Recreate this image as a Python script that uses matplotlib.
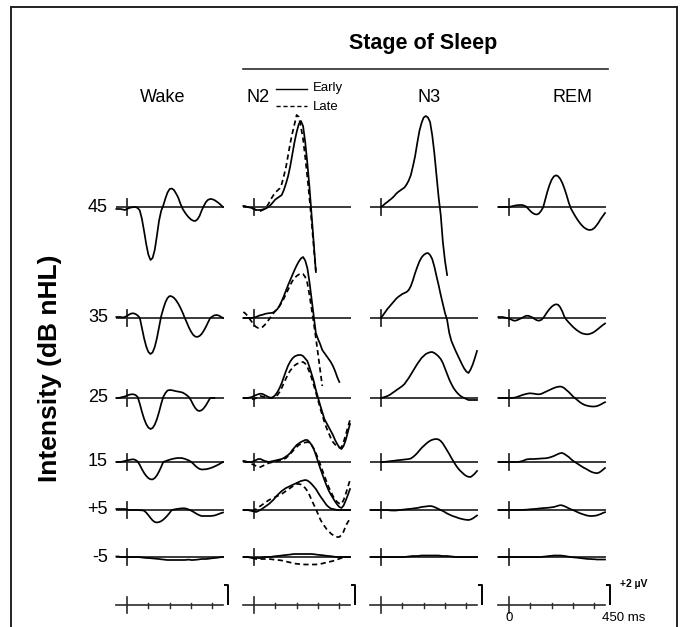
import numpy as np
import matplotlib
matplotlib.use("Agg")
import matplotlib.pyplot as plt
from matplotlib.lines import Line2D

NA = np.nan

# sample times (ms after stimulus onset), one value per 10 ms
time_ms = list(range(-50, 451, 10))
stages = ["Wake", "N2", "N3", "REM"]
levels = ["45", "35", "25", "15", "+5", "-5"]

# averaged waveforms in microvolts, rows = 45, 35, 25, 15, +5, -5 dB nHL
wake = [
    [-0.2, -0.2, -0.2, -0.25, -0.3, -0.2, -0.1, -0.05, 0.0, 0.0,
     -0.1, -0.35, -1.2, -2.4, -3.7, -4.75, -5.3, -5.1, -4.3, -2.9,
     -1.4, -0.4, 0.15, 0.85, 1.45, 1.8, 1.85, 1.7, 1.35, 0.95,
     0.35, -0.15, -0.5, -0.8, -1.05, -1.25, -1.37, -1.4, -1.24, -0.9,
     -0.35, 0.1, 0.5, 0.72, 0.8, 0.78, 0.69, 0.55, 0.39, 0.2, 0.0],
    [0.1, 0.1, 0.1, 0.05, 0.1, 0.2, 0.35, 0.45, 0.47, 0.4,
     0.25, 0.02, -1.0, -2.02, -2.84, -3.39, -3.6, -3.44, -2.9, -2.04,
     -0.95, 0.16, 0.92, 1.57, 2.0, 2.2, 2.16, 2.02, 1.77, 1.44,
     1.04, 0.58, 0.05, -0.43, -0.94, -1.36, -1.68, -1.86, -1.89, -1.8,
     -1.59, -1.27, -0.88, -0.43, 0.0, 0.15, 0.27, 0.3, 0.25, 0.12, 0.0],
    [0.0, 0.0, 0.05, 0.1, 0.15, 0.25, 0.32, 0.37, 0.37, 0.3,
     0.1, -0.58, -1.38, -2.07, -2.61, -2.96, -3.1, -3.0, -2.67, -2.13,
     -1.42, -0.6, 0.1, 0.5, 0.75, 0.8, 0.78, 0.73, 0.68, 0.64,
     0.6, 0.55, 0.43, 0.28, 0.1, -0.23, -0.66, -1.01, -1.24, -1.3,
     -1.22, -1.02, -0.73, -0.36, 0.0, 0.0, 0.0, NA, NA, NA, NA],
    [0.0, 0.0, 0.0, 0.05, 0.1, 0.15, 0.2, 0.25, 0.27, 0.2,
     0.05, -0.3, -0.72, -1.09, -1.39, -1.61, -1.73, -1.74, -1.61, -1.34,
     -0.96, -0.5, 0.0, 0.08, 0.16, 0.23, 0.29, 0.34, 0.38, 0.4,
     0.4, 0.38, 0.32, 0.24, 0.15, 0.03, -0.16, -0.38, -0.56, -0.69,
     -0.75, -0.74, -0.72, -0.68, -0.62, -0.54, -0.45, -0.35, -0.24, -0.12, 0.0],
    [0.1, 0.1, 0.1, 0.1, 0.1, 0.05, 0.0, 0.0, 0.0, 0.0,
     0.0, -0.02, -0.03, -0.07, -0.26, -0.51, -0.79, -1.04, -1.2, -1.25,
     -1.21, -1.12, -0.97, -0.77, -0.54, -0.28, 0.0, 0.05, 0.09, 0.12,
     0.15, 0.17, 0.17, 0.12, 0.04, -0.05, -0.17, -0.3, -0.43, -0.53,
     -0.6, -0.6, -0.6, -0.6, -0.6, -0.58, -0.55, -0.48, -0.4, -0.32, -0.25],
    [0.05, 0.05, 0.0, 0.0, 0.0, 0.0, 0.0, 0.0, 0.0, 0.0,
     0.0, -0.02, -0.05, -0.07, -0.1, -0.1, -0.12, -0.14, -0.16, -0.18,
     -0.2, -0.23, -0.25, -0.28, -0.3, -0.3, -0.3, -0.3, -0.3, -0.3,
     -0.3, -0.3, -0.3, -0.28, -0.26, -0.3, -0.3, -0.28, -0.26, -0.23,
     -0.2, -0.2, -0.2, -0.18, -0.15, -0.12, -0.1, -0.08, -0.05, -0.02, 0.0],
]

n2_early = [
    [0.1, 0.05, 0.0, -0.05, -0.1, -0.2, -0.3, -0.3, -0.3, -0.25,
     -0.2, -0.1, 0.05, 0.25, 0.5, 0.75, 0.9, 1.05, 1.2, 1.7,
     2.35, 3.1, 4.1, 5.3, 6.5, 7.5, 8.3, 8.6, 8.1, 6.5,
     4.4, 2.0, -0.8, -3.6, -6.5, NA, NA, NA, NA, NA,
     NA, NA, NA, NA, NA, NA, NA, NA, NA, NA, NA],
    [0.0, 0.0, 0.0, 0.0, 0.0, 0.05, 0.1, 0.2, 0.28, 0.32,
     0.4, 0.45, 0.48, 0.5, 0.55, 0.7, 0.9, 1.25, 1.7, 2.2,
     2.75, 3.3, 3.8, 4.3, 4.8, 5.25, 5.65, 5.95, 6.1, 5.75,
     5.0, 3.6, 1.9, 0.2, -1.5, -2.1, -2.6, -3.2, -3.5, -3.8,
     -4.1, -4.4, -4.8, -5.3, -5.9, -6.4, NA, NA, NA, NA, NA],
    [0.0, 0.0, 0.0, 0.05, 0.1, 0.2, 0.3, 0.38, 0.43, 0.4,
     0.3, 0.18, 0.08, 0.02, 0.1, 0.3, 0.6, 1.0, 1.5, 2.1,
     2.7, 3.25, 3.65, 3.95, 4.15, 4.25, 4.3, 4.3, 4.2, 3.95,
     3.7, 3.1, 2.4, 1.7, 0.8, 0.05, -0.7, -1.4, -2.1, -2.5,
     -2.9, -3.3, -3.7, -4.2, -4.6, -4.95, -5.1, -4.8, -4.2, -3.4, -2.6],
    [0.1, 0.05, 0.0, 0.0, 0.0, 0.1, 0.2, 0.3, 0.3, 0.2,
     0.1, 0.05, 0.0, 0.05, 0.1, 0.15, 0.2, 0.25, 0.3, 0.4,
     0.55, 0.7, 0.9, 1.2, 1.45, 1.7, 1.85, 2.0, 2.1, 2.2,
     2.2, 2.0, 1.7, 1.3, 0.7, 0.05, -0.6, -1.2, -1.8, -2.35,
     -2.85, -3.25, -3.6, -3.95, -4.25, -4.5, -4.6, -4.35, -3.85, -3.3, -2.7],
    [0.0, 0.0, 0.0, -0.05, -0.1, -0.15, -0.2, -0.1, 0.0, 0.15,
     0.3, 0.45, 0.6, 0.8, 1.0, 1.25, 1.5, 1.7, 1.9, 2.05,
     2.2, 2.3, 2.4, 2.5, 2.6, 2.7, 2.8, 2.9, 2.95, 3.0,
     2.95, 2.8, 2.6, 2.35, 2.1, 1.75, 1.4, 1.1, 0.8, 0.5,
     0.3, 0.15, 0.1, 0.05, 0.0, 0.0, 0.0, 0.0, 0.0, 0.0, 0.0],
    [0.0, 0.0, 0.0, -0.05, -0.1, -0.1, -0.1, -0.1, -0.1, -0.05,
     0.0, 0.0, 0.0, 0.02, 0.05, 0.08, 0.1, 0.12, 0.15, 0.18,
     0.2, 0.22, 0.25, 0.28, 0.3, 0.3, 0.3, 0.3, 0.3, 0.3,
     0.3, 0.3, 0.3, 0.28, 0.25, 0.22, 0.2, 0.18, 0.15, 0.12,
     0.1, 0.08, 0.05, 0.02, 0.0, 0.0, 0.0, 0.0, 0.0, 0.0, 0.0],
]

n2_late = [
    [0.1, 0.05, 0.0, -0.05, -0.1, -0.2, -0.3, -0.35, -0.4, -0.3,
     -0.2, 0.05, 0.4, 0.8, 1.15, 1.45, 1.65, 1.85, 2.3, 3.1,
     4.0, 5.2, 6.4, 7.4, 8.3, 9.2, 9.0, 8.0, 6.8, 5.0,
     3.0, 0.9, -1.5, -4.0, -6.4, NA, NA, NA, NA, NA,
     NA, NA, NA, NA, NA, NA, NA, NA, NA, NA, NA],
    [0.6, 0.45, 0.2, -0.1, -0.4, -0.7, -0.9, -1.0, -1.0, -0.9,
     -0.7, -0.45, -0.15, 0.15, 0.45, 0.7, 0.95, 1.2, 1.55, 1.95,
     2.4, 2.85, 3.3, 3.7, 4.0, 4.2, 4.35, 4.45, 4.4, 4.1,
     3.5, 2.3, 0.9, -0.5, -2.0, -3.6, -5.2, -6.8, NA, NA,
     NA, NA, NA, NA, NA, NA, NA, NA, NA, NA, NA],
    [0.0, 0.0, 0.0, -0.05, -0.1, -0.1, 0.0, 0.1, 0.2, 0.15,
     0.1, 0.05, 0.0, 0.0, 0.05, 0.15, 0.3, 0.6, 1.0, 1.5,
     1.95, 2.4, 2.75, 3.0, 3.25, 3.4, 3.5, 3.58, 3.6, 3.45,
     3.1, 2.6, 2.0, 1.3, 0.55, -0.2, -1.0, -1.7, -2.4, -3.0,
     -3.5, -4.0, -4.4, -4.65, -4.85, -4.95, -4.95, -4.4, -3.7, -2.9, -2.2],
    [0.1, 0.05, 0.0, -0.1, -0.2, -0.3, -0.4, -0.5, -0.5, -0.4,
     -0.3, -0.2, -0.1, -0.05, 0.0, 0.05, 0.1, 0.15, 0.2, 0.3,
     0.4, 0.6, 0.8, 1.05, 1.3, 1.5, 1.7, 1.8, 1.9, 1.95,
     2.0, 1.9, 1.7, 1.35, 0.9, 0.35, -0.2, -0.8, -1.4, -1.95,
     -2.5, -2.95, -3.4, -3.75, -4.0, -4.15, -4.2, -3.8, -3.2, -2.5, -1.8],
    [0.0, 0.0, 0.0, -0.05, -0.1, -0.05, 0.1, 0.25, 0.4, 0.55,
     0.7, 0.85, 1.0, 1.1, 1.2, 1.3, 1.4, 1.5, 1.6, 1.75,
     1.9, 2.05, 2.2, 2.35, 2.5, 2.6, 2.6, 2.55, 2.4, 2.2,
     1.9, 1.5, 1.0, 0.55, 0.1, -0.4, -0.9, -1.3, -1.6, -1.9,
     -2.1, -2.35, -2.5, -2.65, -2.7, -2.7, -2.5, -2.15, -1.6, -1.2, -0.9],
    [0.0, 0.0, 0.0, -0.05, -0.1, -0.15, -0.2, -0.2, -0.2, -0.2,
     -0.2, -0.2, -0.2, -0.22, -0.25, -0.28, -0.3, -0.32, -0.35, -0.4,
     -0.45, -0.5, -0.55, -0.6, -0.65, -0.68, -0.7, -0.72, -0.75, -0.75,
     -0.75, -0.75, -0.75, -0.75, -0.75, -0.72, -0.7, -0.65, -0.6, -0.55,
     -0.5, -0.45, -0.4, -0.32, -0.25, -0.18, -0.1, -0.05, 0.0, 0.0, 0.0],
]

n3 = [
    [NA, NA, NA, NA, NA, 0.0, 0.15, 0.35, 0.5, 0.68,
     0.85, 1.05, 1.3, 1.5, 1.65, 1.8, 1.95, 2.25, 2.65, 3.2,
     4.1, 5.1, 6.4, 7.6, 8.4, 8.95, 9.1, 8.95, 8.5, 7.2,
     5.4, 3.2, 1.0, -0.8, -3.5, -5.4, -6.8, NA, NA, NA,
     NA, NA, NA, NA, NA, NA, NA, NA, NA, NA, NA],
    [NA, NA, NA, NA, NA, 0.0, 0.3, 0.6, 0.9, 1.15,
     1.4, 1.65, 1.9, 2.1, 2.25, 2.4, 2.5, 2.6, 2.8, 3.2,
     3.8, 4.5, 5.1, 5.65, 6.05, 6.3, 6.45, 6.5, 6.3, 5.9,
     5.15, 4.2, 3.3, 2.3, 1.4, 0.5, -0.2, -1.5, -2.3, -2.8,
     -3.3, -3.75, -4.2, -4.65, -5.05, -5.35, -5.5, -5.15, -4.65, -4.0, -3.3],
    [NA, NA, NA, NA, NA, 0.0, 0.05, 0.12, 0.2, 0.3,
     0.45, 0.6, 0.75, 0.9, 1.05, 1.2, 1.4, 1.7, 2.0, 2.35,
     2.7, 3.05, 3.4, 3.7, 4.0, 4.2, 4.4, 4.5, 4.58, 4.6,
     4.5, 4.35, 4.15, 3.9, 3.5, 2.95, 2.4, 1.85, 1.4, 1.0,
     0.7, 0.45, 0.25, 0.1, 0.0, -0.1, -0.2, -0.2, -0.2, -0.2, -0.2],
    [NA, NA, NA, NA, NA, 0.0, 0.0, 0.02, 0.05, 0.07,
     0.1, 0.12, 0.15, 0.18, 0.2, 0.22, 0.25, 0.27, 0.3, 0.35,
     0.5, 0.68, 0.9, 1.15, 1.4, 1.6, 1.8, 1.98, 2.12, 2.22,
     2.28, 2.3, 2.25, 2.1, 1.85, 1.5, 1.15, 0.8, 0.4, 0.05,
     -0.3, -0.6, -0.85, -1.05, -1.25, -1.4, -1.48, -1.5, -1.35, -1.15, -0.9],
    [0.0, 0.0, 0.0, 0.0, 0.0, 0.0, 0.0, 0.0, 0.0, -0.03,
     -0.05, -0.05, -0.05, -0.02, 0.0, 0.03, 0.05, 0.08, 0.1, 0.12,
     0.15, 0.18, 0.2, 0.25, 0.3, 0.33, 0.35, 0.38, 0.4, 0.37,
     0.3, 0.2, 0.1, 0.0, -0.1, -0.22, -0.35, -0.45, -0.55, -0.63,
     -0.7, -0.78, -0.85, -0.9, -0.95, -0.98, -1.0, -0.95, -0.85, -0.7, -0.55],
    [0.0, 0.0, 0.0, 0.0, 0.0, 0.0, 0.0, 0.0, 0.0, 0.0,
     0.0, 0.0, 0.0, 0.0, 0.0, 0.0, 0.0, 0.03, 0.05, 0.08,
     0.1, 0.1, 0.1, 0.12, 0.15, 0.15, 0.15, 0.15, 0.15, 0.15,
     0.15, 0.15, 0.15, 0.12, 0.1, 0.1, 0.1, 0.08, 0.05, 0.03,
     0.0, 0.0, 0.0, 0.0, 0.0, 0.0, 0.0, 0.0, 0.0, 0.0, 0.0],
]

rem = [
    [0.0, 0.0, 0.0, 0.0, 0.0, 0.0, 0.05, 0.1, 0.15, 0.18,
     0.2, 0.2, 0.15, 0.05, -0.17, -0.4, -0.59, -0.71, -0.75, -0.66,
     -0.4, -0.04, 0.75, 1.54, 2.21, 2.73, 3.05, 3.17, 3.08, 2.82,
     2.4, 1.84, 1.18, 0.45, -0.15, -0.53, -0.9, -1.24, -1.54, -1.8,
     -2.02, -2.17, -2.27, -2.3, -2.25, -2.1, -1.85, -1.55, -1.2, -0.9, -0.6],
    [0.1, 0.1, 0.1, 0.05, 0.0, -0.05, -0.15, -0.25, -0.27, -0.2,
     -0.1, 0.0, 0.12, 0.22, 0.22, 0.15, 0.05, -0.1, -0.22, -0.27,
     -0.2, -0.02, 0.3, 0.62, 0.9, 1.13, 1.29, 1.37, 1.33, 1.08,
     0.65, 0.11, -0.2, -0.44, -0.67, -0.89, -1.08, -1.25, -1.39, -1.51,
     -1.58, -1.62, -1.63, -1.58, -1.5, -1.38, -1.22, -1.05, -0.87, -0.7, -0.55],
    [0.0, 0.0, 0.0, 0.0, 0.0, 0.0, 0.0, 0.02, 0.05, 0.12,
     0.2, 0.28, 0.35, 0.4, 0.45, 0.47, 0.45, 0.42, 0.38, 0.37,
     0.4, 0.5, 0.6, 0.7, 0.8, 0.9, 1.0, 1.07, 1.12, 1.15,
     1.1, 0.97, 0.78, 0.6, 0.38, 0.15, -0.02, -0.2, -0.38, -0.53,
     -0.65, -0.73, -0.79, -0.83, -0.85, -0.85, -0.82, -0.75, -0.65, -0.53, -0.42],
    [0.0, 0.0, 0.0, 0.0, 0.0, 0.0, 0.0, 0.0, 0.0, 0.0,
     0.03, 0.08, 0.15, 0.25, 0.28, 0.3, 0.3, 0.3, 0.32, 0.33,
     0.35, 0.36, 0.37, 0.4, 0.45, 0.52, 0.6, 0.7, 0.8, 0.88,
     0.9, 0.8, 0.65, 0.5, 0.3, 0.12, -0.02, -0.15, -0.3, -0.43,
     -0.57, -0.67, -0.8, -0.92, -1.02, -1.08, -1.12, -1.08, -0.95, -0.78, -0.6],
    [0.0, 0.0, 0.0, 0.0, 0.0, 0.0, 0.0, 0.0, 0.0, 0.0,
     0.0, 0.0, 0.02, 0.03, 0.05, 0.07, 0.09, 0.1, 0.12, 0.15,
     0.17, 0.19, 0.2, 0.22, 0.24, 0.27, 0.3, 0.36, 0.43, 0.48,
     0.46, 0.38, 0.28, 0.17, 0.07, 0.0, -0.1, -0.2, -0.3, -0.38,
     -0.45, -0.52, -0.57, -0.6, -0.6, -0.58, -0.55, -0.48, -0.4, -0.3, -0.22],
    [0.0, 0.0, 0.0, 0.0, 0.0, 0.0, 0.0, 0.0, 0.0, 0.0,
     0.0, 0.0, 0.0, 0.0, 0.0, 0.0, 0.0, 0.0, 0.0, 0.0,
     0.0, 0.03, 0.05, 0.08, 0.1, 0.12, 0.15, 0.15, 0.15, 0.15,
     0.13, 0.1, 0.07, 0.03, 0.0, -0.03, -0.05, -0.07, -0.1, -0.12,
     -0.15, -0.17, -0.2, -0.2, -0.22, -0.22, -0.25, -0.25, -0.25, -0.25, -0.25],
]

# layout, in pixels of the 686 x 627 picture
W, H = 686, 627
PX_MS = 96 / 450      # 450 ms spans 96 px
PX_UV = 10            # 1 uV = 10 px (the 2 uV bar is 20 px)
zero_x = [127, 254, 381, 509]
row_y = [207, 318, 398, 462, 510, 557]
scale_y = 605
base_col = "#2b2b2b"

plt.rcParams["font.family"] = ["Liberation Sans", "DejaVu Sans"]
fig = plt.figure(figsize=(W / 100, H / 100), dpi=100)


def fx(x):
    return x / W


def fy(y):
    return 1 - y / H


columns = [[wake], [n2_early, n2_late], [n3], [rem]]
styles = ["-", (0, (3, 2))]

for c, x0 in enumerate(zero_x):
    ax = fig.add_axes([fx(x0 - 60 * PX_MS), 0, 580 * PX_MS / W, 1])
    ax.set_xlim(-60, 520)
    ax.set_ylim(0, H / PX_UV)
    ax.axis("off")
    ax.patch.set_visible(False)
    for r, y in enumerate(row_y):
        off = (H - y) / PX_UV
        ax.plot([-50, 455], [off, off], color=base_col, lw=1.3, solid_capstyle="butt")
        ax.plot([0, 0], [off - 0.8, off + 0.8], color=base_col, lw=1.3)
        for series, ls in zip(columns[c], styles):
            ax.plot(time_ms, np.array(series[r]) + off, color="black", lw=1.25,
                    ls=ls, clip_on=False, solid_joinstyle="round")
    # time / amplitude scale
    off = (H - scale_y) / PX_UV
    ax.plot([-50, 450], [off, off], color=base_col, lw=1.2)
    ax.plot([0, 0], [off - 0.8, off + 0.8], color=base_col, lw=1.2)
    for t in (100, 200, 300, 400):
        ax.plot([t, t], [off - 0.25, off + 0.25], color=base_col, lw=1.0)
    ax.plot([460, 472, 472], [off + 2, off + 2, off + 0.1], color="black", lw=1.4)
    if c == 3:
        ax.text(0, off - 1.3, "0", ha="center", va="center", fontsize=9.5)
        ax.text(436, off - 1.3, "450 ms", ha="left", va="center", fontsize=9.5)
        ax.text(520, off + 2.1, "+2 µV", ha="left", va="center", fontsize=7.5,
                fontweight="bold")

# titles
fig.text(fx(423), fy(44), "Stage of Sleep", ha="center", va="center",
         fontsize=15.5, fontweight="bold")
fig.add_artist(Line2D([fx(243), fx(608)], [fy(69), fy(69)], color=base_col, lw=1.2))
title_x = [163, 247, 429, 572]
for name, x in zip(stages, title_x):
    fig.text(fx(x), fy(98), name, ha="left" if name == "N2" else "center",
             va="center", fontsize=13)

# early / late key beside N2
fig.add_artist(Line2D([fx(276), fx(307)], [fy(89), fy(89)], color="black", lw=1.0))
fig.add_artist(Line2D([fx(276), fx(307)], [fy(106), fy(106)], color="black", lw=1.0,
                      ls=(0, (3, 2))))
fig.text(fx(313), fy(88), "Early", ha="left", va="center", fontsize=9.5)
fig.text(fx(313), fy(107), "Late", ha="left", va="center", fontsize=9.5)

# intensity labels
for lab, y in zip(levels, row_y):
    fig.text(fx(108), fy(y), lab, ha="right", va="center", fontsize=13)
fig.text(fx(50), fy(368), "Intensity (dB nHL)", rotation=90, ha="center",
         va="center", fontsize=19, fontweight="bold")

# frame
for xs, ys in [([11, 11], [7, 627]), ([11, 677], [7, 7]), ([677, 677], [7, 627])]:
    fig.add_artist(Line2D([fx(v) for v in xs], [fy(v) for v in ys], color="#222222", lw=1.4))

fig.savefig("out.png", dpi=100)
